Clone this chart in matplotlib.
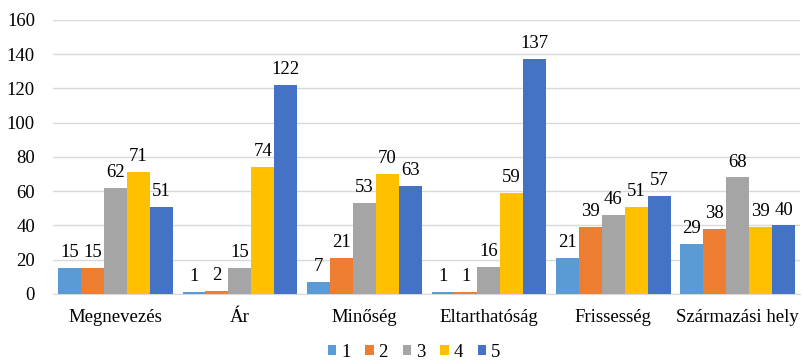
import matplotlib
matplotlib.use("Agg")
import matplotlib.pyplot as plt
import numpy as np

categories = ["Megnevezés", "Ár", "Minőség", "Eltarthatóság", "Frissesség", "Származási hely"]
series_names = ["1", "2", "3", "4", "5"]
s1 = [15, 1, 7, 1, 21, 29]
s2 = [15, 2, 21, 1, 39, 38]
s3 = [62, 15, 53, 16, 46, 68]
s4 = [71, 74, 70, 59, 51, 39]
s5 = [51, 122, 63, 137, 57, 40]
series = [s1, s2, s3, s4, s5]
colors = ["#5B9BD5", "#ED7D31", "#A5A5A5", "#FFC000", "#4472C4"]

plt.rcParams["font.family"] = ["Liberation Serif", "DejaVu Serif"]
FS = 13.5

fig = plt.figure(figsize=(8.04, 3.62), dpi=100)
ax = fig.add_axes([0.066, 0.188, 0.929, 0.757])

x = np.arange(len(categories))
bw = 0.184
offsets = (np.arange(5) - 2) * bw
for name, vals, c, off in zip(series_names, series, colors, offsets):
    bars = ax.bar(x + off, vals, width=bw, color=c, label=name, zorder=3)
    for b, v in zip(bars, vals):
        ax.text(b.get_x() + b.get_width() / 2, v + 4, str(v),
                ha="center", va="bottom", fontsize=FS, color="#000000")

ax.set_ylim(0, 160)
ax.set_yticks(range(0, 161, 20))
ax.set_xlim(-0.5, len(categories) - 0.5)
ax.set_xticks(x)
ax.set_xticklabels(categories)
ax.tick_params(axis="both", length=0, labelsize=FS, colors="#000000")
ax.tick_params(axis="x", pad=11)
ax.tick_params(axis="y", pad=13)
ax.grid(axis="y", color="#D9D9D9", linewidth=1, zorder=0)
for sp in ["top", "right", "left"]:
    ax.spines[sp].set_visible(False)
ax.spines["bottom"].set_color("#D9D9D9")

handles, labels = ax.get_legend_handles_labels()
fig.legend(handles, labels, loc="center", bbox_to_anchor=(0.515, 0.027), ncol=5,
           frameon=False, fontsize=FS, handlelength=0.45, handleheight=0.45,
           handletextpad=0.25, columnspacing=0.8)

fig.savefig("out.png", dpi=100)
